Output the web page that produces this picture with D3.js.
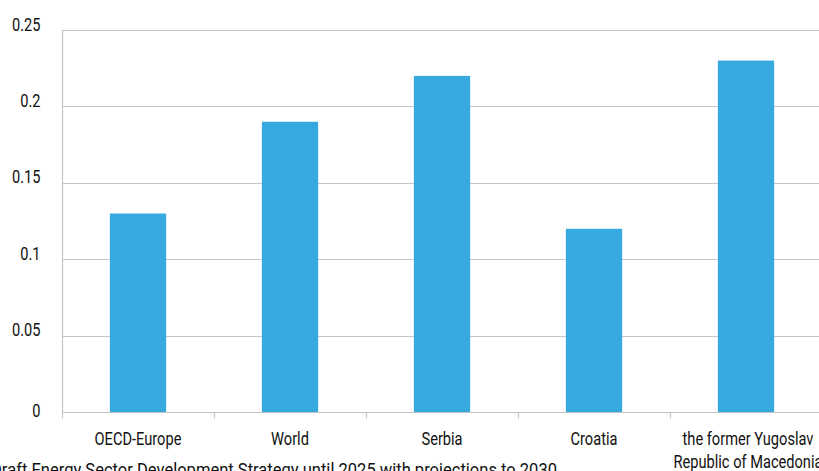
<!DOCTYPE html>
<html>
<head>
<meta charset="utf-8">
<script src="https://cdn.jsdelivr.net/npm/d3@7"></script>
<style>
  html, body { margin: 0; padding: 0; background: #fff; overflow: hidden; }
  svg { display: block; }
  text { font-family: "Roboto", "Noto Sans", sans-serif; fill: #111; }
</style>
</head>
<body>
<svg id="chart" width="819" height="471"></svg>
<script>
const categories = ["OECD-Europe", "World", "Serbia", "Croatia", "the former Yugoslav|Republic of Macedonia"];
const values = [0.13, 0.19, 0.22, 0.12, 0.23];
const yTicks = [0, 0.05, 0.1, 0.15, 0.2, 0.25];
const yTickLabels = ["0", "0.05", "0.1", "0.15", "0.2", "0.25"];
const sourceText = "Draft Energy Sector Development Strategy until 2025 with projections to 2030";

(function () {
const svg = d3.select("#chart");
const pLeft = 62, pRight = 822, pTop = 30, pBottom = 412.3;
const FS = 18.5, SQ = 0.79;

function condense(sel, f) {
  sel.each(function () {
    const w = this.getComputedTextLength();
    d3.select(this).attr("textLength", w * f).attr("lengthAdjust", "spacingAndGlyphs");
  });
}

const x = d3.scaleBand().domain(categories).range([pLeft, pRight]).paddingInner(0.63).paddingOuter(0.315);
const xOuter = d3.scaleBand().domain(categories).range([pLeft, pRight]).padding(0);
const y = d3.scaleLinear().domain([0, 0.25]).range([pBottom, pTop]);

// gridlines
svg.append("g").selectAll("line").data(yTicks.slice(1)).join("line")
  .attr("x1", pLeft).attr("x2", 819)
  .attr("y1", d => Math.round(y(d)) + 0.5).attr("y2", d => Math.round(y(d)) + 0.5)
  .attr("stroke", "#c4c4c4").attr("stroke-width", 1.2);

// bars
svg.append("g").selectAll("rect").data(values).join("rect")
  .attr("x", (d, i) => x(categories[i]))
  .attr("width", x.bandwidth())
  .attr("y", d => y(d))
  .attr("height", d => y(0) - y(d))
  .attr("fill", "#36a9e0");

// y axis line
svg.append("line").attr("x1", pLeft + 0.5).attr("x2", pLeft + 0.5)
  .attr("y1", pTop).attr("y2", pBottom + 6)
  .attr("stroke", "#c4c4c4").attr("stroke-width", 1.2);

// x axis line
svg.append("line").attr("x1", pLeft).attr("x2", 819)
  .attr("y1", Math.round(pBottom) + 0.5).attr("y2", Math.round(pBottom) + 0.5)
  .attr("stroke", "#c4c4c4").attr("stroke-width", 1.2);

// category ticks
const tickXs = categories.map(c => xOuter(c)).slice(1);
svg.append("g").selectAll("line").data(tickXs).join("line")
  .attr("x1", d => Math.round(d) + 0.5).attr("x2", d => Math.round(d) + 0.5)
  .attr("y1", pBottom).attr("y2", pBottom + 6)
  .attr("stroke", "#c4c4c4").attr("stroke-width", 1.2);

// y labels (baseline sits on the gridline; the zero label sits a bit lower)
const yl = svg.append("g").selectAll("text").data(yTicks).join("text")
  .attr("x", 40.5).attr("y", d => y(d) + (d === 0 ? 5 : 0.5))
  .attr("text-anchor", "end")
  .attr("font-size", FS)
  .text((d, i) => yTickLabels[i]);
condense(yl, SQ);

// x labels (one text per line)
const lines = [];
categories.forEach(c => c.split("|").forEach((p, i) => lines.push({ c, p, i })));
const xl = svg.append("g").selectAll("text").data(lines).join("text")
  .attr("x", d => xOuter(d.c) + xOuter.bandwidth() / 2 + (d.c.includes("|") ? 2 : 0))
  .attr("y", d => 445 + d.i * 22.5)
  .attr("text-anchor", "middle")
  .attr("font-size", FS)
  .text(d => d.p);
condense(xl, SQ);

// source line (partially clipped at the edges, as in the original)
svg.append("text").attr("x", -9).attr("y", 475.5)
  .attr("font-size", FS)
  .attr("textLength", 566).attr("lengthAdjust", "spacingAndGlyphs")
  .text(sourceText);
})();
</script>
</body>
</html>
